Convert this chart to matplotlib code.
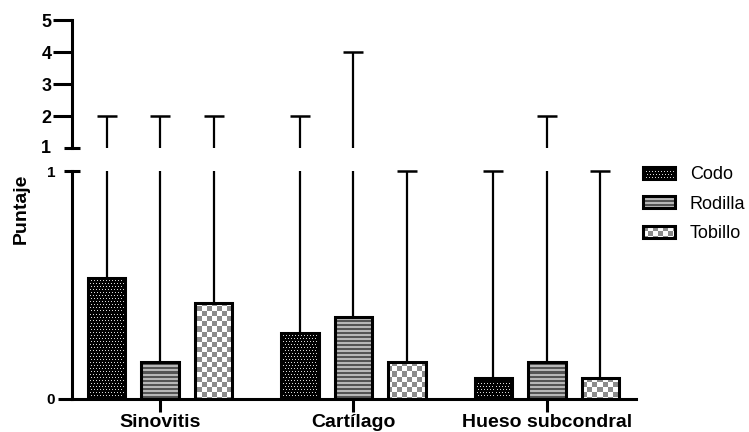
import numpy as np
import matplotlib
matplotlib.use('Agg')
import matplotlib.pyplot as plt
from matplotlib.patches import Patch

plt.rcParams['font.family'] = ['Liberation Sans', 'DejaVu Sans']

categories = ['Sinovitis', 'Cartílago', 'Hueso subcondral']
series = ['Codo', 'Rodilla', 'Tobillo']
# mean score per category (lower panel) and maximum (top of error bar)
codo_mean = [0.53, 0.29, 0.09]
rodilla_mean = [0.16, 0.36, 0.16]
tobillo_mean = [0.42, 0.16, 0.09]
codo_max = [2, 2, 1]
rodilla_max = [2, 4, 2]
tobillo_max = [2, 1, 1]

means = [codo_mean, rodilla_mean, tobillo_mean]
maxima = [codo_max, rodilla_max, tobillo_max]


def pattern(kind, h, w):
    r, c = np.mgrid[0:h, 0:w]
    img = np.ones((h, w, 3))
    if kind == 'Codo':
        img[:] = 0.0
        dots = (r % 3 == 1) & ((c + (r // 3) % 2) % 3 == 1)
        img[dots] = 0.85
    elif kind == 'Rodilla':
        img[:] = 0.33
        img[(r % 4) >= 2] = 0.72
    else:
        img[((r // 5 + c // 5) % 2) == 0] = 0.55
    return img


fig = plt.figure(figsize=(7.49, 4.32), dpi=100)
ax_w = 564 / 749
ax_top = fig.add_axes([0.0961, 0.6567, ax_w, 0.2963])
ax_bot = fig.add_axes([0.0961, 0.0775, ax_w, 0.5266])

H = int(round(0.5266 * 432))
W = 564

x = np.arange(len(categories))
offsets = [-0.2765, 0.0, 0.2765]
width = 0.196
lw = 2.2

for name, off, mean, mx in zip(series, offsets, means, maxima):
    xpos = x + off
    mean = np.array(mean)
    mx = np.array(mx)
    bars = ax_bot.bar(xpos, mean, width, facecolor='none', edgecolor='black',
                      linewidth=lw, zorder=3)
    for b in bars:
        im = ax_bot.imshow(pattern(name, H, W), extent=(0, 1, 0, 1),
                           transform=ax_bot.transAxes, interpolation='nearest',
                           aspect='auto', zorder=2)
        im.set_clip_path(b)
    # error bars, lower panel
    ax_bot.vlines(xpos, mean, np.minimum(mx, 1), colors='black', lw=1.6,
                  zorder=1, clip_on=False)
    low = mx <= 1
    ax_bot.plot(xpos[low], mx[low], ls='none', marker='_', ms=14, mew=1.8,
                color='black', clip_on=False)
    # error bars, upper panel
    high = mx > 1
    ax_top.vlines(xpos[high], 1, mx[high], colors='black', lw=1.6, clip_on=False)
    ax_top.plot(xpos[high], mx[high], ls='none', marker='_', ms=14, mew=1.8,
                color='black', clip_on=False)

for ax in (ax_top, ax_bot):
    ax.set_xlim(-0.455, 2.46)
    ax.spines['top'].set_visible(False)
    ax.spines['right'].set_visible(False)
    ax.spines['left'].set_linewidth(lw)
    ax.spines['bottom'].set_linewidth(lw)
    ax.set_facecolor('none')
    # break marks
    ax.plot([-0.014, 0.014], [0 if ax is ax_top else 1] * 2, color='black',
            lw=lw, transform=ax.transAxes, clip_on=False, solid_capstyle='butt')

ax_top.set_ylim(1, 5)
ax_bot.set_ylim(0, 1)

ax_top.spines['bottom'].set_visible(False)
ax_top.set_xticks([])
ax_top.set_yticks([2, 3, 4, 5])
ax_top.set_yticklabels(['2', '3', '4', '5'], fontsize=13, fontweight='bold')
ax_top.tick_params(axis='y', length=13.5, width=lw, pad=1)
ax_top.text(-0.037, 1, '1', transform=ax_top.get_yaxis_transform(), ha='right',
            va='center', fontsize=13, fontweight='bold')

ax_bot.set_yticks([0, 1])
ax_bot.set_yticklabels(['0', '1'], fontsize=11, fontweight='bold')
ax_bot.tick_params(axis='y', length=10, width=lw, pad=2)
ax_bot.yaxis.get_major_ticks()[1].tick1line.set_visible(False)
ax_bot.set_xticks(x)
ax_bot.set_xticklabels(categories, fontsize=14, fontweight='bold')
ax_bot.tick_params(axis='x', length=9.4, width=lw, pad=1.5)

fig.text(21 / 749, 1 - 209 / 432, 'Puntaje', rotation=90, fontsize=14,
         fontweight='bold', ha='center', va='center')

handles = [Patch(facecolor='none', edgecolor='black', linewidth=lw, label=s)
           for s in series]
leg = fig.legend(handles=handles, loc='upper left',
                 bbox_to_anchor=(643 / 749, 1 - 166 / 432), frameon=False,
                 fontsize=13, handlelength=1.75, handleheight=0.66,
                 handletextpad=0.85, labelspacing=0.7, borderpad=0,
                 borderaxespad=0)

fig.canvas.draw()
for name, p in zip(series, leg.get_patches()):
    bb = p.get_window_extent()
    h, w = int(round(bb.height)), int(round(bb.width))
    fig.figimage(pattern(name, h, w), xo=int(round(bb.x0)), yo=int(round(bb.y0)),
                 origin='upper', zorder=1)

fig.savefig('out.png', dpi=100)
